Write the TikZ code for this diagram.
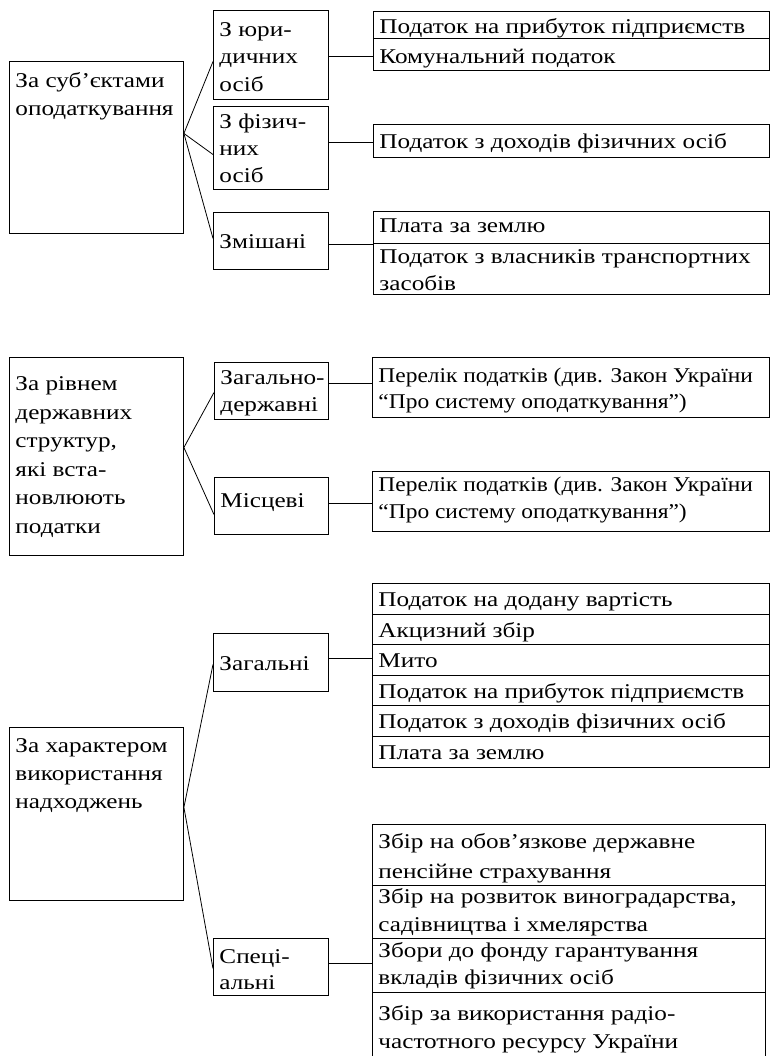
\documentclass[tikz,border=0pt]{standalone}
\usepackage{graphicx}
\usepackage{fontspec}
\setmainfont{Liberation Serif}[FakeStretch=1.2]
\usetikzlibrary{calc}
\newcommand{\tb}[5]{\parbox[c][#2pt][t]{#1pt}{\fontsize{21}{#4}\selectfont\rule{0pt}{#3pt}\rlap{\parbox[t]{600pt}{\raggedright\fontsize{21}{#4}\selectfont #5\par}}\par}}
\newcommand{\sq}[1]{\scalebox{0.93}[1]{#1}}
\begin{document}
\begin{tikzpicture}[x=1pt,y=-1pt,
  bx/.style={draw, line width=0.9pt, inner xsep=6pt, inner ysep=0pt, anchor=north west},
  ln/.style={line width=0.8pt}]
\useasboundingbox (0,0) rectangle (770,1056);
% ---------- section 1
\node[bx] (m1) at (9,61) {\tb{162}{172}{26}{28}{За суб’єктами\\оподаткування}};
\node[bx] (c11) at (213,10) {\tb{103}{89}{26}{27.5}{З юри-\\дичних\\осіб}};
\node[bx] (c12) at (213,106) {\tb{103}{83}{22}{27}{З фізич-\\них\\осіб}};
\node[bx] (c13) at (213,212) {\tb{103}{57}{36}{27}{Змішані}};
\node[bx] (l1a) at (373,11) {\tb{384}{27}{22}{27}{Податок на прибуток підприємств}};
\node[bx] (l1b) at (373,38) {\tb{384}{32}{25}{27}{Комунальний податок}};
\node[bx] (l2) at (373,124) {\tb{384}{33}{24}{27}{Податок з доходів фізичних осіб}};
\node[bx] (l3a) at (373,211) {\tb{384}{32}{21}{27}{Плата за землю}};
\node[bx] (l3b) at (373,243) {\tb{384}{51}{20}{27}{Податок з власників транспортних\\засобів}};
\coordinate (m1o) at ($(m1.north east)!0.419!(m1.south east)$);
\draw[ln] (m1o) -- ($(c11.north west)!0.573!(c11.south west)$);
\draw[ln] (m1o) -- ($(c12.north west)!0.578!(c12.south west)$);
\draw[ln] (m1o) -- ($(c13.north west)!0.456!(c13.south west)$);
\coordinate (c11r) at ($(c11.north east)!0.517!(c11.south east)$);
\coordinate (c12r) at ($(c12.north east)!0.434!(c12.south east)$);
\coordinate (c13r) at ($(c13.north east)!0.561!(c13.south east)$);
\draw[ln] (c11r) -- (c11r -| l1b.west);
\draw[ln] (c12r) -- (c12r -| l2.west);
\draw[ln] (c13r) -- (c13r -| l3a.west);
% ---------- section 2
\node[bx] (m2) at (9,357) {\tb{162}{198}{33}{28.6}{За рівнем\\державних\\структур,\\які вста-\\новлюють\\податки}};
\node[bx] (c21) at (214,362) {\tb{102}{57}{22}{27}{Загально-\\державні}};
\node[bx] (c22) at (214,477) {\tb{102}{57}{30}{27}{Місцеві}};
\node[bx] (l21) at (372,357) {\tb{385}{60}{25}{26}{\sq{Перелік податків (див. Закон України}\\\sq{“Про систему оподаткування”)}}};
\node[bx] (l22) at (372,471) {\tb{385}{60}{20}{27}{\sq{Перелік податків (див. Закон України}\\\sq{“Про систему оподаткування”)}}};
\coordinate (m2o) at ($(m2.north east)!0.455!(m2.south east)$);
\draw[ln] (m2o) -- ($(c21.north west)!0.526!(c21.south west)$);
\draw[ln] (m2o) -- ($(c22.north west)!0.649!(c22.south west)$);
\coordinate (c21r) at ($(c21.north east)!0.368!(c21.south east)$);
\coordinate (c22r) at ($(c22.north east)!0.456!(c22.south east)$);
\draw[ln] (c21r) -- (c21r -| l21.west);
\draw[ln] (c22r) -- (c22r -| l22.west);
% ---------- section 3
\node[bx] (m3) at (9,727) {\tb{162}{173}{25}{28}{За характером\\використання\\надходжень}};
\node[bx] (c31) at (213,633) {\tb{103}{58}{37}{27}{Загальні}};
\node[bx] (c32) at (213,938) {\tb{103}{57}{25}{26}{Спеці-\\альні}};
\node[bx] (g1) at (372,583) {\tb{385}{31}{23}{27}{Податок на додану вартість}};
\node[bx] (g2) at (372,614) {\tb{385}{30}{23}{27}{Акцизний збір}};
\node[bx] (g3) at (372,644) {\tb{385}{31}{23}{27}{Мито}};
\node[bx] (g4) at (372,675) {\tb{385}{30}{23}{27}{Податок на прибуток підприємств}};
\node[bx] (g5) at (372,705) {\tb{385}{31}{23}{27}{Податок з доходів фізичних осіб}};
\node[bx] (g6) at (372,736) {\tb{385}{31}{23}{27}{Плата за землю}};
\node[bx] (s1) at (372,824) {\tb{381}{61}{24}{30}{Збір на обов’язкове державне\\пенсійне страхування}};
\node[bx] (s2) at (372,885) {\tb{381}{53}{18}{28}{Збір на розвиток виноградарства,\\садівництва і хмелярства}};
\node[bx] (s3) at (372,938) {\tb{381}{54}{19}{27}{Збори до фонду гарантування\\вкладів фізичних осіб}};
\node[bx] (s4) at (372,992) {\tb{381}{66}{28}{28}{Збір за використання радіо-\\частотного ресурсу України}};
\coordinate (m3o) at ($(m3.north east)!0.462!(m3.south east)$);
\draw[ln] (m3o) -- ($(c31.north west)!0.534!(c31.south west)$);
\draw[ln] (m3o) -- ($(c32.north west)!0.526!(c32.south west)$);
\coordinate (c31r) at ($(c31.north east)!0.431!(c31.south east)$);
\coordinate (c32r) at ($(c32.north east)!0.439!(c32.south east)$);
\draw[ln] (c31r) -- (c31r -| g3.west);
\draw[ln] (c32r) -- (c32r -| s3.west);
\end{tikzpicture}
\end{document}
